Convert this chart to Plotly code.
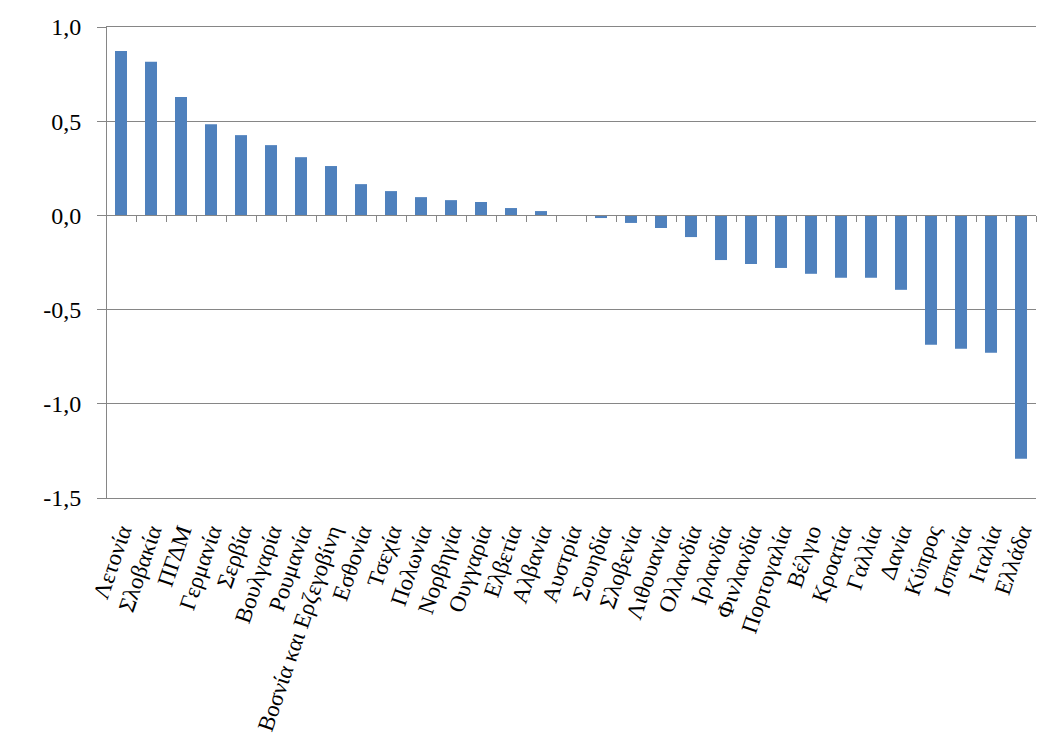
import plotly.graph_objects as go

categories = ["Λετονία", "Σλοβακία", "ΠΓΔΜ", "Γερμανία", "Σερβία", "Βουλγαρία", "Ρουμανία",
              "Βοσνία και Ερζεγοβίνη", "Εσθονία", "Τσεχία", "Πολωνία", "Νορβηγία", "Ουγγαρία",
              "Ελβετία", "Αλβανία", "Αυστρία", "Σουηδία", "Σλοβενία", "Λιθουανία", "Ολλανδία",
              "Ιρλανδία", "Φινλανδία", "Πορτογαλία", "Βέλγιο", "Κροατία", "Γαλλία", "Δανία",
              "Κύπρος", "Ισπανία", "Ιταλία", "Ελλάδα"]
values = [0.872, 0.815, 0.628, 0.484, 0.426, 0.373, 0.309, 0.262, 0.166, 0.129, 0.097, 0.081,
          0.071, 0.039, 0.023, 0.0, -0.014, -0.040, -0.067, -0.115, -0.237, -0.258, -0.279,
          -0.310, -0.331, -0.331, -0.395, -0.687, -0.708, -0.729, -1.292]
y_tickvals = [1.0, 0.5, 0.0, -0.5, -1.0, -1.5]
y_ticktext = ["1,0", "0,5", "0,0", "-0,5", "-1,0", "-1,5"]

y_min, y_max = -1.5, 1.0
zero_pos = (0 - y_min) / (y_max - y_min)
x_range = [-0.5, len(categories) - 0.5]

font_family = "Liberation Serif"
grid_col = "#868686"

fig = go.Figure()
fig.add_trace(go.Bar(x=categories, y=values, marker_color="#4F81BD", marker_line_width=0,
                     xaxis="x", yaxis="y", showlegend=False))
# invisible trace carrying the bottom category labels
fig.add_trace(go.Scatter(x=categories, y=values, mode="markers", marker_opacity=0,
                         xaxis="x2", yaxis="y", showlegend=False, hoverinfo="skip"))

fig.update_layout(
    width=1055, height=738,
    margin=dict(l=106, r=19, t=27, b=240, autoexpand=False),
    paper_bgcolor="white", plot_bgcolor="white",
    bargap=0.6,
    font=dict(family=font_family, color="black"),
    xaxis=dict(type="category", range=x_range, autorange=False, anchor="free",
               position=zero_pos, showline=True,
               linecolor=grid_col, linewidth=1, ticks="outside", tickson="boundaries",
               ticklen=6, tickcolor=grid_col, showticklabels=False, showgrid=False,
               zeroline=False),
    xaxis2=dict(type="category", range=x_range, autorange=False, overlaying="x",
                side="bottom", anchor="y",
                showline=True, mirror=True, linecolor=grid_col, linewidth=1,
                ticks="", showticklabels=True, tickangle=-71,
                ticklabelstandoff=10,
                tickfont=dict(family=font_family, size=23, color="black"),
                showgrid=False, zeroline=False, automargin=False),
    yaxis=dict(range=[y_min, y_max], autorange=False, tickvals=y_tickvals, ticktext=y_ticktext,
               anchor="free", position=0,
               tickfont=dict(family=font_family, size=24, color="black"),
               showgrid=True, gridcolor=grid_col, gridwidth=1, zeroline=False,
               showline=True, linecolor=grid_col, linewidth=1, ticks="outside",
               ticklen=9, tickcolor=grid_col, ticklabelstandoff=11, automargin=False),
)

fig.write_html("out.html", config={"displayModeBar": False},
               post_script="document.body.style.margin='0';")
